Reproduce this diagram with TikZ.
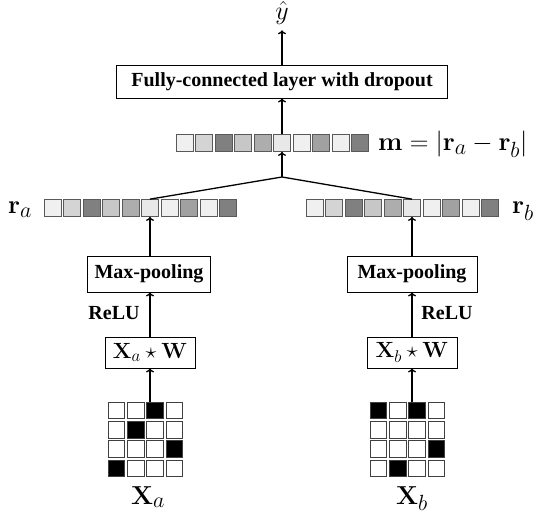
\RequirePackage{fix-cm}
\documentclass[tikz,border=0pt]{standalone}
\usepackage[no-math]{fontspec}
\setmainfont{Liberation Serif}
\DeclareMathSizes{26}{26}{22}{16}
\DeclareMathSizes{22}{22}{17}{13}
\usetikzlibrary{arrows.meta}
\begin{document}
\begin{tikzpicture}[x=1pt,y=-1pt,
 box/.style={draw,line width=0.8pt,inner sep=0pt,font=\fontsize{20}{24}\selectfont\bfseries},
 mbox/.style={draw,line width=0.8pt,inner sep=0pt,font=\fontsize{22}{24}\selectfont},
 lab/.style={inner sep=0pt,font=\fontsize{26}{30}\selectfont},
 blab/.style={inner sep=0pt,font=\fontsize{20}{24}\selectfont\bfseries},
 arr/.style={line width=1.3pt,-{To[length=4pt,width=8pt]}},
 ln/.style={line width=1.3pt},
 vcell/.style={draw=black!65,line width=0.7pt,minimum width=17pt,minimum height=17pt,inner sep=0pt},
 gcell/.style={draw=black!75,line width=0.8pt,minimum width=16.5pt,minimum height=16.5pt,inner sep=0pt},
]
\useasboundingbox (0,0) rectangle (534,518);

% vectors
\foreach \c [count=\i from 0] in {black!6,black!17,black!50,black!22,black!32,black!9,black!6,black!37,black!6,black!50}{
  \node[vcell,fill=\c] (ra\i) at (52.5+19.5*\i,208) {};
  \node[vcell,fill=\c] (rb\i) at (314.5+19.5*\i,208) {};
  \node[vcell,fill=\c] (m\i) at (184.5+19.5*\i,143) {};
}
\node[lab,anchor=base] (ralab) at (20,214) {$\mathbf{r}_a$};
\node[lab,anchor=base] (rblab) at (523,214) {$\mathbf{r}_b$};
\node[lab,anchor=base west] (mlab) at (378,151) {$\mathbf{m}=|\mathbf{r}_a-\mathbf{r}_b|$};

% top
\node[box,minimum width=331pt,minimum height=33pt] (fc) at (282,81.5) {Fully-connected layer with dropout};
\node[lab,anchor=base] (yhat) at (282,20) {$\hat{y}$};

% left branch
\node[box,minimum width=123pt,minimum height=36pt] (mpA) at (149,274) {Max-pooling};
\node[mbox,minimum width=90pt,minimum height=31pt] (cvA) at (150,352.5) {$\mathbf{X}_a\star\mathbf{W}$};
\node[blab] (reluA) at (114,313) {ReLU};
% right branch
\node[box,minimum width=130pt,minimum height=36pt] (mpB) at (412,274) {Max-pooling};
\node[mbox,minimum width=90pt,minimum height=31pt] (cvB) at (412,352.5) {$\mathbf{X}_b\star\mathbf{W}$};
\node[blab] (reluB) at (447,313) {ReLU};

% grids
\foreach \r/\cc/\f in {0/0/white,0/1/white,0/2/black,0/3/white,
                      1/0/white,1/1/black,1/2/white,1/3/white,
                      2/0/white,2/1/white,2/2/white,2/3/black,
                      3/0/black,3/1/white,3/2/white,3/3/white}{
  \node[gcell,fill=\f] (ga\r\cc) at (116.5+19.3*\cc,410.5+19.3*\r) {};
}
\foreach \r/\cc/\f in {0/0/black,0/1/white,0/2/black,0/3/white,
                      1/0/white,1/1/white,1/2/white,1/3/white,
                      2/0/white,2/1/white,2/2/white,2/3/black,
                      3/0/white,3/1/black,3/2/white,3/3/white}{
  \node[gcell,fill=\f] (gb\r\cc) at (378.5+19.3*\cc,410.5+19.3*\r) {};
}
\node[lab,anchor=base] (xa) at (148,504) {$\mathbf{X}_a$};
\node[lab,anchor=base] (xb) at (412,504) {$\mathbf{X}_b$};

\coordinate (gatop) at (150,402);
\coordinate (gbtop) at (412,402);
\coordinate (split) at (282,177);

% connectors
\draw[arr] (gatop) -- (cvA.south);
\draw[arr] (gbtop) -- (cvB.south);
\draw[arr] (cvA.north) -- (cvA.north |- mpA.south);
\draw[arr] (cvB.north) -- (mpB.south);
\draw[arr] (ra5.south |- mpA.north) -- (ra5.south);
\draw[arr] (mpB.north) -- (mpB.north |- rb5.south);
\draw[ln] (ra5.north) -- (split) -- (rb5.north);
\draw[arr] (split) -- (m5.south);
\draw[arr] (m5.north) -- (fc.south);
\draw[arr,shorten >=5pt] (fc.north) -- (yhat.south);
\end{tikzpicture}
\end{document}
